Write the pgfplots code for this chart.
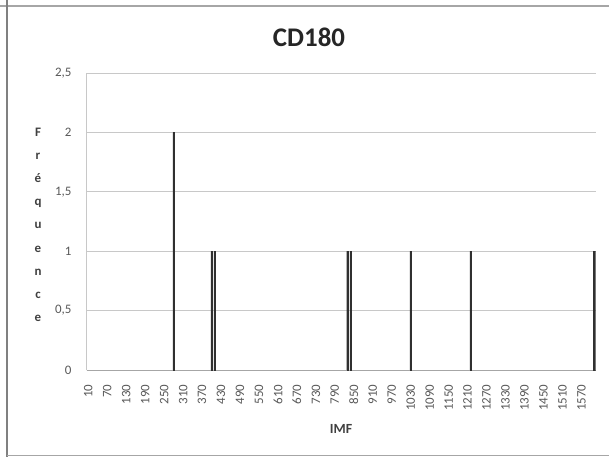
\documentclass[border=0pt]{standalone}
\usepackage{fontspec}
\setmainfont{Carlito}
\usepackage{pgfplots}
\pgfplotsset{compat=1.18}
\definecolor{gridc}{HTML}{C8C8C8}
\definecolor{axc}{HTML}{A6A6A6}
\definecolor{txt}{HTML}{595959}
\definecolor{barc}{HTML}{303030}
\begin{document}
\begin{tikzpicture}
\useasboundingbox (0,0) rectangle (609bp,-457bp);
\fill[white] (0,0) rectangle (609bp,-457bp);
\draw[color=black!35, line width=1.6bp] (0,-6bp) -- (609bp,-6bp);
\draw[color=black!50, line width=2bp] (7.2bp,0) -- (7.2bp,-457bp);
\draw[color=black!35, line width=1.4bp] (7.2bp,-455.5bp) -- (609bp,-455.5bp);
\begin{axis}[
  at={(86.7bp,-370bp)}, anchor=south west,
  scale only axis, width=508.9bp, height=297bp,
  xmin=5, xmax=1615, ymin=0, ymax=2.5,
  ytick={0,0.5,...,2.5},
  xtick={10,70,...,1570},
  ymajorgrids, grid style={gridc, line width=0.8bp},
  axis x line*=bottom, axis y line*=left,
  x axis line style={axc, line width=0.9bp, -},
  y axis line style={gridc, line width=0.8bp, -},
  tick style={draw=none},
  /pgf/number format/assume math mode=true,
  ticklabel style={font=\fontsize{13}{14}\selectfont, text=txt},
  xticklabel shift=10bp, yticklabel shift=15bp,
  xticklabel style={rotate=90, anchor=east, inner sep=0pt, /pgf/number format/1000 sep={}},
  yticklabel style={anchor=east, inner sep=0pt, /pgf/number format/use comma},
  ybar, bar width=5,
  title={CD180},
  title style={at={(axis description cs:0.4368,1.101)}, anchor=center, inner sep=0pt, font=\bfseries\fontsize{27}{30}\selectfont, text=black!85},
  xlabel={IMF},
  xlabel style={at={(axis description cs:0.5,-0.1987)}, anchor=center, inner sep=0pt, font=\bfseries\fontsize{14}{15}\selectfont, text=black!75},
  ylabel={F\\r\\é\\q\\u\\e\\n\\c\\e},
  ylabel style={at={(axis description cs:-0.0957,0.489)}, anchor=center, rotate=-90, align=center, inner sep=0pt, font=\bfseries\fontsize{13}{23.3}\selectfont, text=black!75},
]
\addplot[draw=barc, fill=barc, line width=0.3bp] coordinates {
(280,2) (400,1) (410,1) (830,1) (840,1) (1030,1) (1220,1) (1610,1)
};
\end{axis}
\end{tikzpicture}
\end{document}
